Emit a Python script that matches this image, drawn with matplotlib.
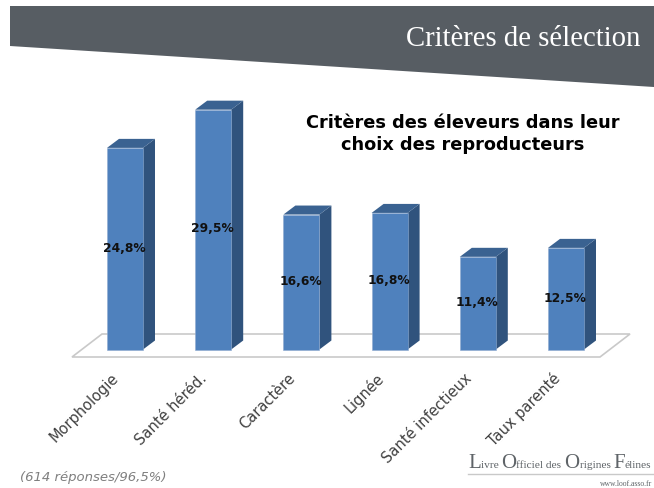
import matplotlib
matplotlib.use("Agg")
import matplotlib.pyplot as plt
from matplotlib.patches import Polygon

criteres = ["Morphologie", "Santé héréd.", "Caractère", "Lignée", "Santé infectieux", "Taux parenté"]
valeurs = [24.8, 29.5, 16.6, 16.8, 11.4, 12.5]
etiquettes = ["24,8%", "29,5%", "16,6%", "16,8%", "11,4%", "12,5%"]

W, H = 654, 489
fig = plt.figure(figsize=(W / 100, H / 100), dpi=100)

# axes sur toute la figure : x = rang de la catégorie, y = pourcentage
ax = fig.add_axes([0, 0, 1, 1])
x0, pas = 125.0, 88.2
y0, echelle = 350.5, 8.13
ax.set_xlim(-x0 / pas, (W - x0) / pas)
ax.set_ylim((y0 - H) / echelle, y0 / echelle)
ax.axis("off")

# conversion pixels du cadre -> coordonnées figure
def fx(px):
    return px / W

def fy(py):
    return 1 - py / H

# bandeau du haut
fig.add_artist(Polygon([(fx(10), fy(7)), (fx(654), fy(7)), (fx(654), fy(88)), (fx(10), fy(47))],
                       closed=True, facecolor="#575d63", edgecolor="none",
                       transform=fig.transFigure))
fig.text(fx(640), fy(39), "Critères de sélection", color="white", ha="right", va="center",
         fontsize=20.7, family="Liberation Serif")

# profondeur et largeur des barres, en unités des axes
larg = 36 / pas
dx = 12 / pas
dy = 9 / echelle

# plancher
gauche = (72 - x0) / pas
droite = (600 - x0) / pas
bas = -7.5 / echelle
prof_x = 30 / pas
prof_y = 23 / echelle
ax.add_patch(Polygon([(gauche, bas), (droite, bas), (droite + prof_x, bas + prof_y), (gauche + prof_x, bas + prof_y)],
                     closed=True, facecolor="white", edgecolor="#c9c9c9", linewidth=1.2, zorder=1))

for i, v in enumerate(valeurs):
    g = i - larg / 2
    d = i + larg / 2
    ax.add_patch(Polygon([(d, 0), (d + dx, dy), (d + dx, v + dy), (d, v)], closed=True,
                         facecolor="#30537d", edgecolor="none", zorder=2))
    ax.add_patch(Polygon([(g, v), (d, v), (d + dx, v + dy), (g + dx, v + dy)], closed=True,
                         facecolor="#3a6291", edgecolor="none", zorder=2))
    ax.bar(i, v, width=larg, color="#4f81bd", edgecolor="#8fabd0", linewidth=0.4, zorder=3)
    ax.text(i - 0.01, v / 2 + 0.2, etiquettes[i], ha="center", va="center", fontsize=8.8,
            fontweight="bold", color="#111111", zorder=4)
    # étiquette de catégorie, ancrée en haut à droite
    ax.annotate(criteres[i], xy=(i, 0), xytext=(-14, -20), textcoords="offset pixels",
                rotation=45, rotation_mode="anchor", ha="right", va="top",
                fontsize=10.5, color="#404040")

# titre interne
fig.text(fx(463), fy(134), "Critères des éleveurs dans leur\nchoix des reproducteurs",
         ha="center", va="center", fontsize=12.8, fontweight="bold", color="black",
         linespacing=1.3)

# note
fig.text(fx(20), fy(478), "(614 réponses/96,5%)", ha="left", va="center", fontsize=9.5,
         style="italic", color="#7f7f7f")

# logo : majuscules plus grandes
morceaux = [("L", 15), ("ivre ", 8.2), ("O", 15), ("fficiel des ", 8.2), ("O", 15),
            ("rigines ", 8.2), ("F", 15), ("élines", 8.2)]
px = 468.0
renderer = fig.canvas.get_renderer()
for texte, taille in morceaux:
    t = fig.text(fx(px), fy(468), texte, ha="left", va="baseline", fontsize=taille,
                 family="Liberation Serif", color="#5f6468")
    px = t.get_window_extent(renderer).x1
fig.add_artist(plt.Line2D([fx(468), fx(654)], [fy(475), fy(475)], color="#c9c9c9", linewidth=1))
fig.text(fx(652), fy(484), "www.loof.asso.fr", ha="right", va="center", fontsize=5.5,
         family="Liberation Serif", color="#5f6468")

fig.savefig("out.png", dpi=100)
